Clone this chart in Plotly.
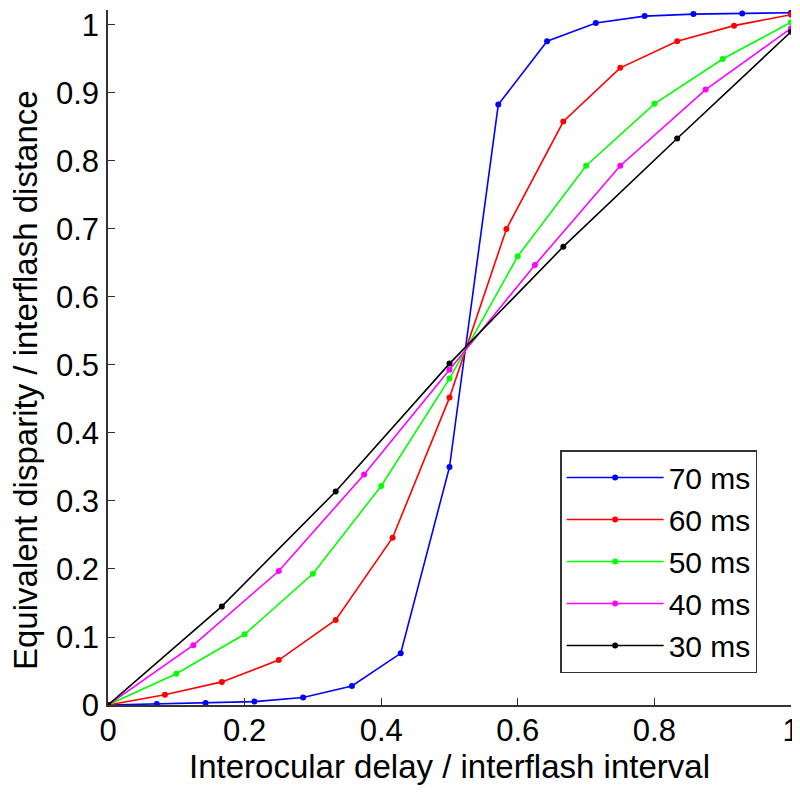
import plotly.graph_objects as go

# Data
labels = ["70 ms", "60 ms", "50 ms", "40 ms", "30 ms"]
colors = ["#0000ff", "#ff0000", "#00ff00", "#ff00ff", "#000000"]

x70 = [k / 14 for k in range(15)]
y70 = [0, 0.0015, 0.003, 0.005, 0.011, 0.028, 0.076, 0.350, 0.883, 0.976, 1.003, 1.013, 1.016, 1.017, 1.018]

x60 = [k / 12 for k in range(13)]
y60 = [0, 0.015, 0.034, 0.066, 0.125, 0.246, 0.452, 0.700, 0.858, 0.937, 0.976, 0.999, 1.015]

x50 = [k / 10 for k in range(11)]
y50 = [0, 0.046, 0.104, 0.193, 0.322, 0.480, 0.660, 0.793, 0.884, 0.950, 1.004]

x40 = [k / 8 for k in range(9)]
y40 = [0, 0.088, 0.197, 0.339, 0.493, 0.647, 0.793, 0.905, 0.995]

x30 = [k / 6 for k in range(7)]
y30 = [0, 0.145, 0.314, 0.502, 0.674, 0.833, 0.990]

xs = [x70, x60, x50, x40, x30]
ys = [y70, y60, y50, y40, y30]

x_ticks = [0, 0.2, 0.4, 0.6, 0.8, 1]
y_ticks = [0, 0.1, 0.2, 0.3, 0.4, 0.5, 0.6, 0.7, 0.8, 0.9, 1]

x_title = "Interocular delay / interflash interval"
y_title = "Equivalent disparity / interflash distance"

FONT = "Liberation Sans, Arial, Helvetica, sans-serif"

fig = go.Figure()
for x, y, lab, c in zip(xs, ys, labels, colors):
    fig.add_trace(go.Scatter(
        x=x, y=y, name=lab, mode="lines+markers",
        line=dict(color=c, width=1.6),
        marker=dict(color=c, size=6),
    ))

axis_common = dict(
    showgrid=False, zeroline=False, showline=True, linecolor="#333333", linewidth=1.5,
    ticks="inside", ticklen=7, tickcolor="#333333", tickwidth=1.2,
    tickfont=dict(family=FONT, size=31, color="black"), mirror=False,
    automargin=False, ticklabeloverflow="allow",
)

fig.update_layout(
    # page body adds an 8px margin; size the figure so the plot lands where the reference has it
    width=792, height=785,
    margin=dict(l=100, r=9, t=2, b=88),
    paper_bgcolor="white", plot_bgcolor="white",
    font=dict(family=FONT, color="black"),
    xaxis=dict(range=[0, 1], tickvals=x_ticks,
               title=dict(text=x_title, font=dict(family=FONT, size=33), standoff=4),
               ticklabelstandoff=-3,
               **axis_common),
    yaxis=dict(range=[0, 1.022], tickvals=y_ticks,
               ticklabelstandoff=1,
               **axis_common),
    legend=dict(
        x=0.662, y=0.046, xanchor="left", yanchor="bottom",
        bordercolor="#333333", borderwidth=1.5, bgcolor="white",
        font=dict(family=FONT, size=30, color="black"),
        itemwidth=97, tracegroupgap=0,
    ),
    showlegend=True,
    annotations=[dict(
        text=y_title, textangle=-90, xref="paper", yref="paper",
        x=0, y=0.4676, xanchor="center", yanchor="middle", xshift=-83,
        showarrow=False, font=dict(family=FONT, size=33, color="black"),
    )],
)

fig.write_html("out.html")
